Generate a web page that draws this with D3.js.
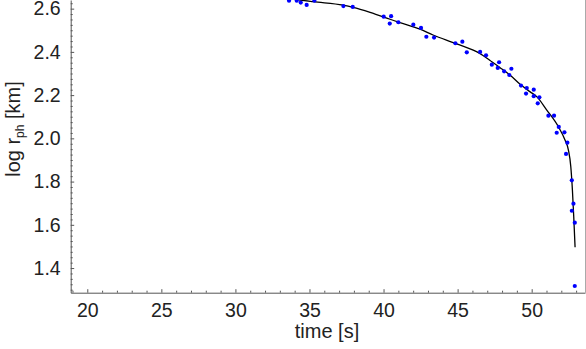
<!DOCTYPE html>
<html>
<head>
<meta charset="utf-8">
<script src="https://cdn.jsdelivr.net/npm/d3@7"></script>
<style>
  body { margin: 0; background: #fff; }
  svg { display: block; }
  .tick text { font-family: "Liberation Sans", Arial, sans-serif; font-size: 19.5px; fill: #222; }
  .axis-title { font-family: "Liberation Sans", Arial, sans-serif; font-size: 20px; fill: #222; }
</style>
</head>
<body>
<svg id="chart"></svg>
<script>
// observed photospheric radius
const obsTime = [33.62, 34.14, 34.41, 34.81, 35.33, 37.29, 37.92, 40.01, 40.42, 40.51,
  41.00, 42.01, 42.53, 42.89, 43.41, 44.85, 45.32, 45.62, 46.52, 46.92,
  47.31, 47.71, 47.80, 48.14, 48.49, 48.63, 49.28, 49.62, 49.67, 50.14,
  50.14, 50.41, 50.52, 51.13, 51.51, 51.69, 51.83, 52.21, 52.32, 52.41,
  52.71, 52.71, 52.82, 52.91, 52.91];
const obsLogR = [2.637, 2.637, 2.628, 2.617, 2.637, 2.612, 2.608, 2.563, 2.531, 2.565,
  2.537, 2.526, 2.511, 2.470, 2.466, 2.440, 2.447, 2.398, 2.400, 2.384,
  2.341, 2.326, 2.352, 2.310, 2.293, 2.322, 2.244, 2.207, 2.233, 2.225,
  2.195, 2.162, 2.190, 2.105, 2.105, 2.026, 2.053, 2.028, 1.928, 1.980,
  1.806, 1.665, 1.698, 1.610, 1.317];

// fitted curve
const fitTime = [33.5, 34.36, 35.24, 37.27, 37.94, 39.09, 40.44, 41.11, 42.46, 43.34,
  44.94, 46.52, 47.19, 47.87, 48.55, 49.22, 49.90, 50.34, 51.02, 51.80,
  52.25, 52.48, 52.64, 52.75, 52.84, 52.93];
const fitLogR = [2.650, 2.640, 2.632, 2.616, 2.606, 2.583, 2.551, 2.535, 2.505, 2.478,
  2.437, 2.392, 2.360, 2.327, 2.292, 2.250, 2.215, 2.193, 2.131, 2.054,
  1.992, 1.946, 1.870, 1.761, 1.637, 1.496];

const xTicks = [20, 25, 30, 35, 40, 45, 50];
const yTicks = [1.4, 1.6, 1.8, 2.0, 2.2, 2.4, 2.6];

const width = 586, height = 349;
const plotLeft = 70.7, plotRight = 585, plotBottom = 292.7, plotTop = 0;

const svg = d3.select('#chart')
  .attr('width', width)
  .attr('height', height);

const xScale = d3.scaleLinear().domain([18.88, 53.6]).range([plotLeft, plotRight]);
const yScale = d3.scaleLinear().domain([1.286, 2.640]).range([plotBottom, plotTop]);

svg.append('defs').append('clipPath')
  .attr('id', 'plot-clip')
  .append('rect')
  .attr('x', plotLeft).attr('y', plotTop)
  .attr('width', plotRight - plotLeft).attr('height', plotBottom - plotTop);

// right frame edge
svg.append('line')
  .attr('x1', plotRight + 0.5).attr('x2', plotRight + 0.5)
  .attr('y1', 0).attr('y2', plotBottom)
  .attr('stroke', '#aaa');

// minor ticks
const xMinor = d3.range(19, 54, 1).filter(v => v % 5 !== 0);
const yMinor = d3.range(1.3, 2.64, 0.025).filter(v => Math.abs(v * 5 - Math.round(v * 5)) > 1e-6);

svg.append('g')
  .attr('transform', `translate(0,${plotBottom})`)
  .call(d3.axisBottom(xScale).tickValues(xMinor).tickSize(-2).tickFormat(''))
  .call(g => g.select('.domain').remove())
  .selectAll('line').attr('stroke', '#555');

svg.append('g')
  .attr('transform', `translate(${plotLeft},0)`)
  .call(d3.axisLeft(yScale).tickValues(yMinor).tickSize(-2).tickFormat(''))
  .call(g => g.select('.domain').remove())
  .selectAll('line').attr('stroke', '#555');

// major axes
const xAxisG = svg.append('g')
  .attr('transform', `translate(0,${plotBottom})`)
  .call(d3.axisBottom(xScale).tickValues(xTicks).tickSize(-3.5).tickSizeOuter(0).tickPadding(10).tickFormat(d3.format('d')));

const yAxisG = svg.append('g')
  .attr('transform', `translate(${plotLeft},0)`)
  .call(d3.axisLeft(yScale).tickValues(yTicks).tickSize(-3.5).tickSizeOuter(0).tickPadding(10).tickFormat(d3.format('.1f')));

[xAxisG, yAxisG].forEach(g => {
  g.select('.domain').attr('stroke', '#555');
  g.selectAll('.tick line').attr('stroke', '#555');
});

// fit line
const line = d3.line()
  .x((d, i) => xScale(fitTime[i]))
  .y((d, i) => yScale(fitLogR[i]))
  .curve(d3.curveMonotoneX);

svg.append('path')
  .datum(fitTime)
  .attr('clip-path', 'url(#plot-clip)')
  .attr('fill', 'none')
  .attr('stroke', '#000')
  .attr('stroke-width', 1.3)
  .attr('d', line);

// data points
svg.selectAll('.point')
  .data(obsTime)
  .join('circle')
  .attr('class', 'point')
  .attr('cx', d => xScale(d))
  .attr('cy', (d, i) => yScale(obsLogR[i]))
  .attr('r', 2.1)
  .attr('fill', '#0000ff');

// axis titles
svg.append('text')
  .attr('class', 'axis-title')
  .attr('x', 327)
  .attr('y', 338)
  .style('text-anchor', 'middle')
  .text('time [s]');

const yTitle = svg.append('text')
  .attr('class', 'axis-title')
  .attr('transform', 'translate(20,129) rotate(-90)')
  .style('text-anchor', 'middle');
yTitle.append('tspan').text('log r');
yTitle.append('tspan').attr('dy', 4).style('font-size', '12px').text('ph');
yTitle.append('tspan').attr('dy', -4).text(' [km]');
</script>
</body>
</html>
